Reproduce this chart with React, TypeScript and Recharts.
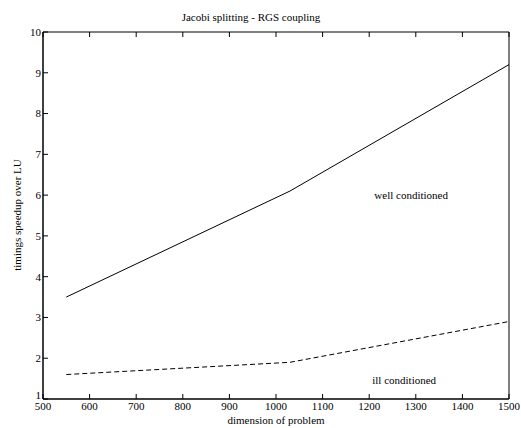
import { LineChart, Line, XAxis, YAxis, ReferenceDot, Label } from "recharts"

const dims = [550, 1030, 1500]
const wellConditioned = [3.5, 6.1, 9.2]
const illConditioned = [1.6, 1.9, 2.9]
const xTicks = [500, 600, 700, 800, 900, 1000, 1100, 1200, 1300, 1400, 1500]
const yTicks = [1, 2, 3, 4, 5, 6, 7, 8, 9, 10]

const data = dims.map((d, i) => ({ dim: d, well: wellConditioned[i], ill: illConditioned[i] }))

const FONT = "'Liberation Serif', 'Times New Roman', serif"
const TICK = 5

function BottomTick({ x, y, payload }: any) {
  return (
    <g>
      <line x1={x} y1={y} x2={x} y2={y - TICK} stroke="#000" />
      <text x={x} y={y + 10.5} textAnchor="middle" fontSize={11} fontFamily={FONT} fill="#000">
        {payload.value}
      </text>
    </g>
  )
}

function TopTick({ x, y }: any) {
  return <line x1={x} y1={y} x2={x} y2={y + TICK} stroke="#000" />
}

function LeftTick({ x, y, payload }: any) {
  // lowest label sits a bit higher so it does not run into "500"
  const shift = payload.value === 1 ? -4 : 0
  return (
    <g>
      <line x1={x} y1={y} x2={x + TICK} y2={y} stroke="#000" />
      <text x={x - 2} y={y + shift} dy="0.35em" textAnchor="end" fontSize={11} fontFamily={FONT} fill="#000">
        {payload.value}
      </text>
    </g>
  )
}

function RightTick({ x, y }: any) {
  return <line x1={x} y1={y} x2={x - TICK} y2={y} stroke="#000" />
}

const note = (text: string) => (props: any) => {
  const { viewBox } = props
  return (
    <text x={viewBox.x} y={viewBox.y} dy="0.35em" textAnchor="middle" fontSize={11} fontFamily={FONT} fill="#000">
      {text}
    </text>
  )
}

export default function App() {
  return (
    <div style={{ position: "absolute", left: 0, top: 0, width: 521, height: 428, background: "#fff" }}>
      <LineChart width={521} height={428} data={data} margin={{ top: 31, right: 11, bottom: 0, left: 0 }}>
        <XAxis
          dataKey="dim"
          type="number"
          domain={[500, 1500]}
          ticks={xTicks}
          interval={0}
          height={29}
          tickSize={0}
          tickMargin={0}
          tickLine={false}
          tick={<BottomTick />}
          axisLine={{ stroke: "#000", strokeWidth: 1.5 }}
        >
          <Label
            content={() => (
              <text x={276} y={424} textAnchor="middle" fontSize={11} fontFamily={FONT} fill="#000">
                dimension of problem
              </text>
            )}
          />
        </XAxis>
        <XAxis
          xAxisId="top"
          orientation="top"
          dataKey="dim"
          type="number"
          domain={[500, 1500]}
          ticks={xTicks}
          interval={0}
          height={1}
          tickSize={0}
          tickMargin={0}
          tickLine={false}
          tick={<TopTick />}
          axisLine={{ stroke: "#000" }}
        >
          <Label
            content={() => (
              <text x={251} y={21} textAnchor="middle" fontSize={11} fontFamily={FONT} fill="#000">
                Jacobi splitting - RGS coupling
              </text>
            )}
          />
        </XAxis>
        <YAxis
          type="number"
          domain={[1, 10]}
          ticks={yTicks}
          interval={0}
          width={43}
          tickSize={0}
          tickMargin={0}
          tickLine={false}
          tick={<LeftTick />}
          axisLine={{ stroke: "#000", strokeWidth: 1.5 }}
        >
          <Label
            content={() => (
              <text
                transform="translate(17,215) rotate(-90)"
                textAnchor="middle"
                dy="0.35em"
                fontSize={11}
                fontFamily={FONT}
                fill="#000"
              >
                timings speedup over LU
              </text>
            )}
          />
        </YAxis>
        <YAxis
          yAxisId="right"
          orientation="right"
          type="number"
          domain={[1, 10]}
          ticks={yTicks}
          interval={0}
          width={1}
          tickSize={0}
          tickMargin={0}
          tickLine={false}
          tick={<RightTick />}
          axisLine={{ stroke: "#000" }}
        />
        <Line dataKey="well" stroke="#000" strokeWidth={1} dot={false} isAnimationActive={false} />
        <Line
          dataKey="ill"
          stroke="#000"
          strokeWidth={1}
          strokeDasharray="5 3"
          dot={false}
          isAnimationActive={false}
        />
        <ReferenceDot x={1290} y={6.0} r={0} stroke="none" label={note("well conditioned")} />
        <ReferenceDot x={1275} y={1.47} r={0} stroke="none" label={note("ill conditioned")} />
      </LineChart>
    </div>
  )
}
